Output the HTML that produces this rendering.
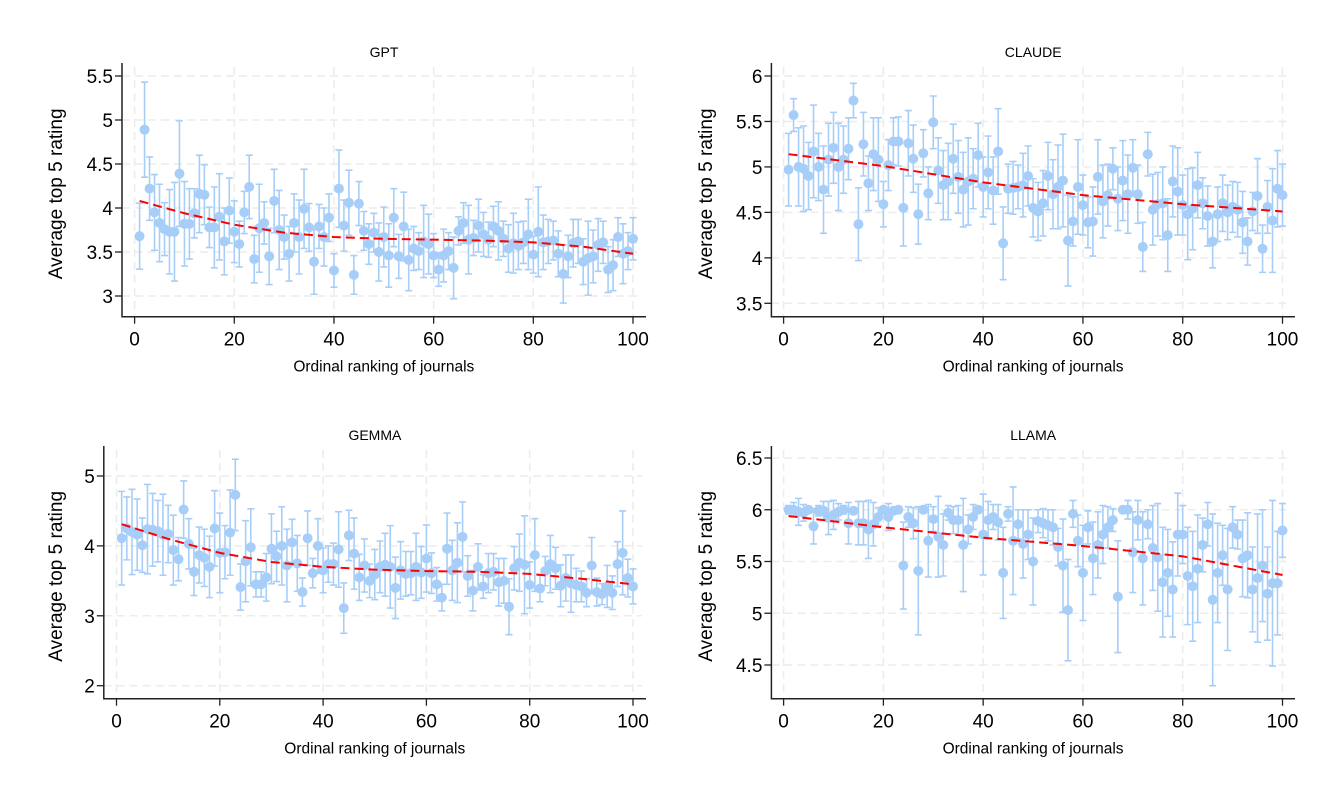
<!DOCTYPE html>
<html><head><meta charset="utf-8">
<style>
html,body{margin:0;padding:0;background:#fff;}
svg{display:block;font-family:"Liberation Sans",Arial,sans-serif;}
</style></head>
<body>
<svg id="chart" width="1335" height="801" viewBox="0 0 1335 801" xmlns="http://www.w3.org/2000/svg"></svg>
<script>
const gptMean=[3.68,4.89,4.22,3.95,3.83,3.76,3.73,3.73,4.39,3.82,3.82,3.94,4.16,4.15,3.78,3.78,3.90,3.62,3.97,3.73,3.59,3.95,4.24,3.42,3.77,3.83,3.45,4.08,3.75,3.67,3.48,3.83,3.67,3.99,3.78,3.39,3.79,3.67,3.89,3.29,4.22,3.80,4.06,3.24,4.05,3.74,3.59,3.72,3.50,3.67,3.46,3.89,3.45,3.79,3.41,3.54,3.51,3.62,3.59,3.46,3.30,3.46,3.51,3.32,3.74,3.83,3.64,3.66,3.80,3.70,3.64,3.79,3.74,3.65,3.54,3.60,3.57,3.61,3.70,3.47,3.73,3.61,3.62,3.63,3.48,3.25,3.45,3.60,3.62,3.39,3.43,3.45,3.58,3.61,3.30,3.35,3.67,3.48,3.51,3.65];
const gptCI=[.375,.54,.36,.43,.44,.30,.48,.56,.60,.48,.40,.28,.44,.34,.23,.46,.49,.38,.37,.35,.26,.24,.36,.27,.50,.24,.32,.36,.45,.25,.31,.33,.42,.45,.27,.37,.25,.33,.27,.19,.44,.29,.37,.22,.25,.22,.23,.22,.33,.34,.36,.33,.25,.39,.35,.25,.21,.41,.34,.25,.19,.30,.21,.35,.16,.23,.39,.20,.30,.25,.20,.23,.33,.20,.27,.34,.27,.24,.40,.21,.51,.31,.25,.22,.26,.33,.24,.27,.25,.26,.42,.30,.30,.24,.26,.29,.22,.34,.21,.24];
const gptFitX=[1,10,20,30,40,50,60,70,80,90,100];
const gptFitY=[4.08,3.94,3.81,3.72,3.67,3.65,3.64,3.63,3.61,3.56,3.48];

const claudeMean=[4.97,5.57,5.00,4.98,4.90,5.17,5.00,4.75,5.08,5.21,5.00,5.08,5.20,5.73,4.37,5.25,4.82,5.14,5.08,4.59,5.02,5.28,5.28,4.55,5.26,5.09,4.48,5.15,4.71,5.49,4.96,4.80,4.84,5.09,4.89,4.75,4.84,4.87,5.13,4.78,4.94,4.74,5.17,4.16,4.76,4.77,4.78,4.80,4.90,4.55,4.51,4.60,4.90,4.70,4.78,4.85,4.19,4.40,4.78,4.58,4.39,4.40,4.89,4.62,4.69,4.98,4.65,4.85,4.70,4.99,4.70,4.12,5.14,4.53,4.59,4.60,4.25,4.84,4.73,4.58,4.48,4.54,4.80,4.60,4.46,4.18,4.48,4.60,4.50,4.56,4.53,4.39,4.18,4.51,4.68,4.10,4.56,4.41,4.76,4.69];
const claudeCI=[.40,.18,.43,.47,.37,.51,.37,.48,.40,.39,.48,.37,.34,.19,.40,.35,.30,.40,.46,.25,.28,.26,.27,.42,.36,.37,.33,.26,.29,.29,.36,.38,.42,.38,.40,.41,.48,.33,.35,.33,.40,.37,.47,.40,.27,.29,.24,.35,.33,.32,.32,.36,.37,.38,.46,.51,.50,.27,.52,.33,.28,.38,.41,.40,.34,.23,.35,.44,.43,.31,.32,.27,.24,.39,.35,.40,.40,.39,.48,.33,.50,.45,.36,.28,.33,.29,.30,.31,.30,.28,.30,.34,.26,.21,.41,.26,.29,.57,.42,.34];
const claudeFitX=[1,20,40,60,80,100];
const claudeFitY=[5.14,5.01,4.83,4.69,4.59,4.51];

const gemmaMean=[4.11,4.25,4.20,4.16,4.01,4.24,4.23,4.21,4.16,4.17,3.94,3.81,4.52,4.03,3.63,3.87,3.83,3.70,4.25,3.90,3.91,4.19,4.73,3.41,3.78,3.98,3.45,3.45,3.55,3.96,3.85,4.00,3.72,4.05,3.75,3.34,4.11,3.61,4.00,3.65,3.74,3.74,3.95,3.11,4.15,3.89,3.55,3.72,3.50,3.59,3.70,3.73,3.70,3.40,3.65,3.60,3.61,3.70,3.62,3.82,3.61,3.45,3.26,3.96,3.65,3.76,4.13,3.57,3.36,3.70,3.42,3.61,3.63,3.48,3.50,3.13,3.68,3.76,3.73,3.44,3.87,3.39,3.64,3.74,3.68,3.43,3.54,3.46,3.44,3.42,3.33,3.72,3.34,3.31,3.42,3.33,3.74,3.90,3.54,3.42];
const gemmaCI=[.67,.45,.61,.51,.39,.64,.52,.44,.58,.41,.50,.31,.41,.36,.34,.40,.41,.44,.54,.57,.38,.61,.51,.33,.58,.55,.18,.18,.34,.50,.36,.56,.52,.33,.40,.20,.39,.21,.39,.32,.26,.30,.54,.36,.36,.51,.33,.38,.24,.36,.37,.45,.59,.44,.41,.32,.31,.48,.37,.48,.29,.24,.19,.51,.43,.57,.50,.29,.29,.33,.17,.28,.26,.34,.32,.40,.31,.41,.70,.33,.52,.19,.21,.41,.30,.30,.33,.41,.24,.22,.20,.40,.20,.15,.30,.24,.32,.60,.27,.25];
const gemmaFitX=[1,10,20,30,40,50,60,70,80,90,100];
const gemmaFitY=[4.31,4.10,3.90,3.77,3.70,3.66,3.64,3.63,3.60,3.53,3.45];

const llamaMean=[6.00,6.00,5.98,5.97,6.00,5.84,5.99,5.99,5.92,5.95,5.98,6.00,5.87,5.99,5.87,5.87,5.81,5.86,5.93,6.00,5.93,5.99,6.00,5.46,5.93,5.87,5.41,6.00,5.70,5.91,5.74,5.66,5.97,5.90,5.90,5.66,5.81,5.93,6.00,5.76,5.90,5.93,5.88,5.39,5.96,5.70,5.86,5.67,5.76,5.50,5.89,5.87,5.85,5.83,5.64,5.46,5.03,5.96,5.70,5.39,5.83,5.53,5.66,5.76,5.83,5.90,5.16,6.00,6.00,5.59,5.90,5.53,5.86,5.63,5.54,5.30,5.39,5.23,5.76,5.76,5.36,5.26,5.43,5.66,5.86,5.13,5.39,5.56,5.23,5.83,5.76,5.53,5.56,5.23,5.34,5.46,5.19,5.29,5.29,5.80];
const llamaCI=[.04,.07,.13,.08,.03,.17,.05,.09,.16,.14,.08,.04,.20,.03,.21,.21,.28,.21,.09,.03,.13,.03,.03,.42,.10,.15,.62,.03,.35,.12,.39,.30,.07,.13,.14,.45,.14,.12,.03,.39,.18,.12,.17,.44,.07,.52,.14,.33,.24,.42,.11,.14,.15,.17,.18,.45,.49,.13,.25,.46,.16,.35,.32,.28,.20,.11,.54,.03,.09,.39,.19,.45,.14,.41,.52,.53,.42,.46,.40,.28,.47,.53,.52,.26,.21,.83,.48,.29,.59,.20,.14,.37,.41,.41,.62,.54,.45,.80,.50,.26];
const llamaFitX=[1,20,40,60,80,100];
const llamaFitY=[5.94,5.83,5.73,5.65,5.55,5.37];

const xTicks=[0,20,40,60,80,100];
const gptYTicks=[3,3.5,4,4.5,5,5.5];
const claudeYTicks=[3.5,4,4.5,5,5.5,6];
const gemmaYTicks=[2,3,4,5];
const llamaYTicks=[4.5,5,5.5,6,6.5];

const NS="http://www.w3.org/2000/svg";
const svg=document.getElementById('chart');
function mk(tag,attrs,parent){const e=document.createElementNS(NS,tag);for(const k in attrs)e.setAttribute(k,attrs[k]);(parent||svg).appendChild(e);return e;}

const panels=[
 {key:'gpt',title:'GPT',mean:gptMean,ci:gptCI,fx:gptFitX,fy:gptFitY,yt:gptYTicks,x0:134.6,x1:633,vA:5.5,pA:76,vB:3,pB:296,left:122,right:646,top:63,bottom:316.7,ytitleX:55},
 {key:'claude',title:'CLAUDE',mean:claudeMean,ci:claudeCI,fx:claudeFitX,fy:claudeFitY,yt:claudeYTicks,x0:783.6,x1:1282.5,vA:6,pA:76,vB:3.5,pB:303.3,left:771.4,right:1295,top:63,bottom:316.7,ytitleX:705},
 {key:'gemma',title:'GEMMA',mean:gemmaMean,ci:gemmaCI,fx:gemmaFitX,fy:gemmaFitY,yt:gemmaYTicks,x0:116.5,x1:633,vA:5,pA:476,vB:2,pB:685.7,left:103.8,right:646,top:446,bottom:698.7,ytitleX:55},
 {key:'llama',title:'LLAMA',mean:llamaMean,ci:llamaCI,fx:llamaFitX,fy:llamaFitY,yt:llamaYTicks,x0:783.6,x1:1282.5,vA:6.5,pA:458,vB:4.5,pB:665,left:771.4,right:1295,top:446,bottom:698.7,ytitleX:705}
];

panels.forEach(p=>{
  const X=v=>p.x0+(v/100)*(p.x1-p.x0);
  const Y=v=>p.pA+(v-p.vA)*(p.pB-p.pA)/(p.vB-p.vA);
  const g=mk('g',{});
  
  
  // grid
  xTicks.forEach(t=>{const l=mk('line',{x1:X(t),x2:X(t),y1:p.top+4,y2:p.bottom,stroke:'#ececec','stroke-width':1.5,'stroke-dasharray':'8 5'},g);
    });
  p.yt.forEach(t=>{const l=mk('line',{x1:p.left,x2:p.right-4,y1:Y(t),y2:Y(t),stroke:'#ececec','stroke-width':1.5,'stroke-dasharray':'8 5'},g);
    });
  // error bars and points
  p.mean.forEach((m,i)=>{
    const cx=X(i+1),hi=Y(m+p.ci[i]),lo=Y(m-p.ci[i]);
    const eb=mk('path',{d:`M${cx},${hi}V${lo}M${cx-3.5},${hi}H${cx+3.5}M${cx-3.5},${lo}H${cx+3.5}`,stroke:'#a7cef8','stroke-width':1.6,fill:'none'},g);
    
  });
  p.mean.forEach((m,i)=>{
    const c=mk('circle',{cx:X(i+1),cy:Y(m),r:5,fill:'#a7cef8'},g);
    
  });
  // fit line
  const pts=p.fx.map((x,i)=>X(x)+','+Y(p.fy[i])).join(' ');
  const fl=mk('polyline',{points:pts,fill:'none',stroke:'#ff0000','stroke-width':2,'stroke-dasharray':'9 5'},g);
  
  // axes
  const ax=mk('path',{d:`M${p.left},${p.top}V${p.bottom}H${p.right}`,stroke:'#222',fill:'none','stroke-width':1.5},g);
  
  xTicks.forEach(t=>{
    mk('line',{x1:X(t),x2:X(t),y1:p.bottom,y2:p.bottom+7,stroke:'#222','stroke-width':1.3},g);
    const tx=mk('text',{x:X(t),y:p.bottom+29,'text-anchor':'middle','font-size':19,fill:'#000'},g);
    tx.textContent=t;
    
  });
  p.yt.forEach(t=>{
    mk('line',{x1:p.left-7,x2:p.left,y1:Y(t),y2:Y(t),stroke:'#222','stroke-width':1.3},g);
    const tx=mk('text',{x:p.left-9,y:Y(t)+7,'text-anchor':'end','font-size':19,fill:'#000'},g);
    tx.textContent=t;
    
  });
  const ti=mk('text',{x:(p.left+p.right)/2,y:p.top-6,'text-anchor':'middle','font-size':14,fill:'#000'},g);
  ti.textContent=p.title;
  
  const xt=mk('text',{x:(p.x0+p.x1)/2,y:p.bottom+55,'text-anchor':'middle','font-size':15.5,fill:'#000'},g);
  xt.textContent='Ordinal ranking of journals';
  
  const cy=(p.top+p.bottom)/2+4;
  const yt=mk('text',{x:p.ytitleX,y:cy,'text-anchor':'middle','font-size':19,fill:'#000',transform:`rotate(-90 ${p.ytitleX} ${cy})`,dy:7},g);
  yt.textContent='Average top 5 rating';
  
});
</script>
</body></html>
